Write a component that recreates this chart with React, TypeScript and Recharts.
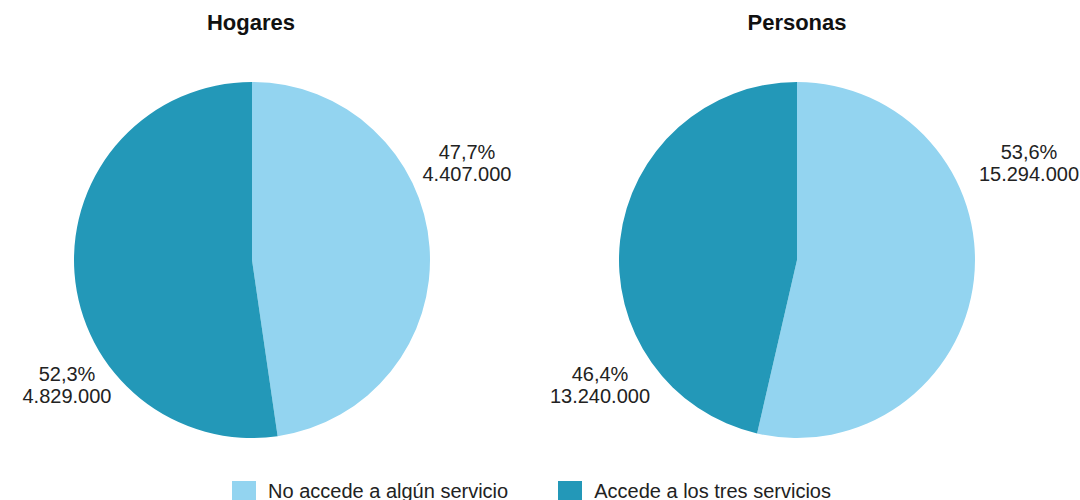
import { PieChart, Pie, Cell, Legend } from 'recharts';

const categories = ['No accede a algún servicio', 'Accede a los tres servicios'];
const colors = ['#93D4F0', '#2398B8'];

const hogaresPct = [47.7, 52.3];
const hogaresAbs = ['4.407.000', '4.829.000'];
const personasPct = [53.6, 46.4];
const personasAbs = ['15.294.000', '13.240.000'];

const titles = ['Hogares', 'Personas'];

const FONT = '"Liberation Sans", Arial, Helvetica, sans-serif';

// label offsets from the pie centre (text centre x, first line y)
const hogaresLabelPos = [{ dx: 215, dy: -108 }, { dx: -185, dy: 114 }];
const personasLabelPos = [{ dx: 232, dy: -108 }, { dx: -197, dy: 114 }];

const hogaresData = categories.map((name, i) => ({ name, value: hogaresPct[i], abs: hogaresAbs[i] }));
const personasData = categories.map((name, i) => ({ name, value: personasPct[i], abs: personasAbs[i] }));

const fmtPct = (v: number) => v.toFixed(1).replace('.', ',') + '%';

const makeLabel = (pos: { dx: number; dy: number }[]) => (props: any) => {
  const { cx, cy, index, payload } = props;
  const p = pos[index];
  const x = cx + p.dx;
  const y = cy + p.dy;
  return (
    <text x={x} y={y} textAnchor="middle" fill="#222" fontSize={20} fontFamily={FONT}>
      <tspan x={x} dy="0.35em">{fmtPct(payload.value)}</tspan>
      <tspan x={x} dy="22">{payload.abs}</tspan>
    </text>
  );
};

const renderLegend = () => (
  <div style={{ display: 'flex', justifyContent: 'center', gap: 50, fontFamily: FONT, fontSize: 20, color: '#222', marginLeft: -17 }}>
    {categories.map((c, i) => (
      <div key={c} style={{ display: 'flex', alignItems: 'center' }}>
        <span style={{ display: 'inline-block', width: 24, height: 22, background: colors[i], marginRight: 12 }} />
        <span>{c}</span>
      </div>
    ))}
  </div>
);

export default function App() {
  return (
    <div style={{ position: 'absolute', left: 0, top: 0, width: 1080, height: 500, background: '#fff' }}>
      {titles.map((t, i) => (
        <div
          key={t}
          style={{
            position: 'absolute',
            top: 10,
            left: i === 0 ? 151 : 697,
            width: 200,
            textAlign: 'center',
            fontFamily: FONT,
            fontWeight: 'bold',
            fontSize: 22,
            color: '#111',
          }}
        >
          {t}
        </div>
      ))}
      <PieChart width={1080} height={500} margin={{ top: 0, right: 0, bottom: 0, left: 0 }}>
        <Pie
          data={hogaresData}
          dataKey="value"
          cx={252}
          cy={260}
          outerRadius={178}
          startAngle={90}
          endAngle={-270}
          stroke="none"
          labelLine={false}
          label={makeLabel(hogaresLabelPos)}
          isAnimationActive={false}
        >
          {hogaresData.map((d, i) => (
            <Cell key={d.name} fill={colors[i]} />
          ))}
        </Pie>
        <Pie
          data={personasData}
          dataKey="value"
          cx={797}
          cy={260}
          outerRadius={178}
          startAngle={90}
          endAngle={-270}
          stroke="none"
          labelLine={false}
          label={makeLabel(personasLabelPos)}
          isAnimationActive={false}
        >
          {personasData.map((d, i) => (
            <Cell key={d.name} fill={colors[i]} />
          ))}
        </Pie>
        <Legend
          content={renderLegend}
          verticalAlign="bottom"
          wrapperStyle={{ bottom: -3, left: 0, width: 1080 }}
        />
      </PieChart>
    </div>
  );
}
